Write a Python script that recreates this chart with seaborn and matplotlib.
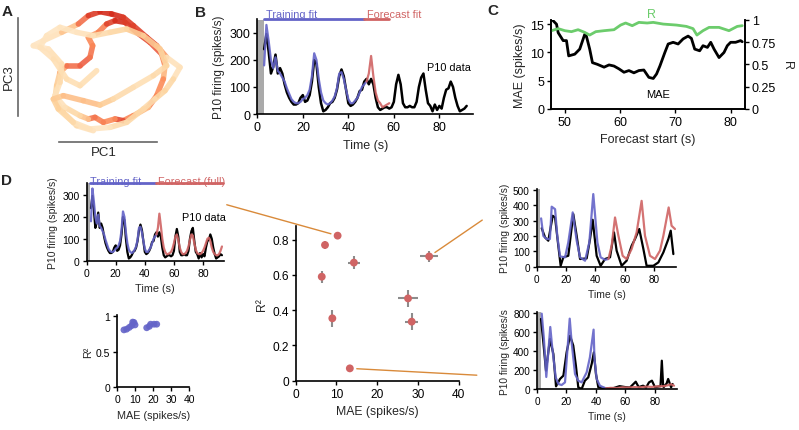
import numpy as np
import pandas as pd
import seaborn as sns
import matplotlib.pyplot as plt
from matplotlib.collections import LineCollection
from matplotlib.patches import ConnectionPatch
from matplotlib.colors import Normalize

sns.set_theme(style="ticks")
plt.rcParams['font.family'] = ['Liberation Sans', 'DejaVu Sans']
plt.rcParams['axes.linewidth'] = 1.2
plt.rcParams['xtick.major.size'] = 3
plt.rcParams['ytick.major.size'] = 3
plt.rcParams['xtick.major.width'] = 1
plt.rcParams['ytick.major.width'] = 1
plt.rcParams['xtick.major.pad'] = 2
plt.rcParams['ytick.major.pad'] = 2

BLUE = '#6464c8'
RED = '#d06464'
GREEN = '#6ccc6c'
ORANGE = '#d98a3a'
GRAY = '#aaaaaa'

# ---- panel A: trajectory in PC1/PC3 space, colour = firing
pc1 = [280, 230, 190, 165, 170, 180, 200, 240, 270, 278, 265, 295, 320, 345, 375, 410, 450, 485, 495, 490,
       470, 445, 400, 370, 345, 310, 285, 265, 240, 195, 165, 180, 185, 145, 100, 130, 185, 235, 265, 300,
       335, 370, 400, 440, 470, 500, 540, 520, 495, 465, 430, 380, 330, 270, 220, 175, 160, 190, 250, 300,
       340, 400, 460, 500, 480, 430, 380, 330, 280, 230, 180, 140, 120, 160, 200, 240, 290]
pc3 = [35, 50, 90, 130, 170, 210, 230, 230, 255, 290, 315, 330, 355, 365, 360, 330, 300, 265, 230, 190,
       140, 105, 80, 65, 70, 60, 75, 70, 80, 105, 140, 180, 235, 280, 290, 305, 330, 355, 380, 392,
       385, 375, 350, 315, 290, 255, 225, 190, 155, 130, 100, 60, 45, 40, 60, 100, 130, 140, 125, 112,
       130, 165, 200, 230, 280, 320, 340, 330, 320, 330, 345, 320, 285, 250, 190, 170, 215]
rate = [0.05, 0.1, 0.15, 0.2, 0.15, 0.3, 0.55, 0.75, 0.65, 0.6, 0.5, 0.45, 0.7, 0.9, 0.85, 0.8, 0.75, 0.7, 0.4, 0.35,
        0.7, 0.4, 0.3, 0.8, 0.75, 0.3, 0.85, 0.4, 0.2, 0.1, 0.05, 0.1, 0.15, 0.05, 0.03, 0.05, 0.1, 0.5, 0.8, 0.85,
        0.9, 0.85, 0.8, 0.8, 0.85, 0.1, 0.05, 0.1, 0.2, 0.15, 0.1, 0.2, 0.05, 0.05, 0.1, 0.2, 0.2, 0.3, 0.35, 0.3,
        0.15, 0.1, 0.1, 0.15, 0.2, 0.3, 0.2, 0.15, 0.1, 0.05, 0.05, 0.05, 0.05, 0.1, 0.1, 0.1, 0.1]

# ---- panel B / D: P10 data and fits (1 s bins)
data_t = list(range(3, 94))
data_v = [240, 296, 230, 150, 175, 220, 150, 170, 150, 110,
          80, 60, 45, 35, 35, 40, 60, 70, 45, 50,
          70, 120, 200, 185, 100, 40, 10, 15, 25, 40,
          45, 60, 90, 140, 165, 140, 90, 40, 30, 35,
          45, 60, 85, 90, 120, 130, 110, 130, 110, 60,
          25, 15, 20, 25, 25, 20, 25, 45, 110, 145,
          110, 40, 25, 25, 30, 25, 25, 45, 100, 135,
          150, 90, 40, 30, 10, 35, 15, 30, 20, 60,
          90, 95, 120, 100, 60, 30, 10, 15, 20, 30, 25]
train_t = list(range(3, 49))
train_v = [180, 330, 270, 200, 170, 210, 160, 150, 135, 120,
           95, 75, 55, 45, 40, 40, 45, 55, 60, 70,
           90, 140, 225, 200, 130, 80, 50, 40, 35, 40,
           50, 65, 95, 150, 155, 130, 90, 55, 40, 40,
           50, 60, 80, 100, 110, 120]
fc_t = list(range(48, 59))
fc_v = [120, 150, 215, 140, 80, 50, 40, 25, 30, 35, 40]
full_t = list(range(48, 94))
full_v = [120, 150, 215, 160, 100, 60, 40, 30, 30, 35, 40, 55, 80, 110, 120, 95, 60, 40, 30, 30,
          35, 45, 65, 95, 120, 115, 80, 50, 35, 30, 30, 35, 45, 60, 80, 100, 105, 90, 60, 40,
          30, 25, 25, 30, 45, 65]
b_train_span = [3, 47]
b_fc_span = [47, 58]
d_train_span = [2, 48]
d_fc_span = [48, 94]

# ---- panel C: sliding forecast start
c_t = [47.6, 48.5, 48.8, 49.7, 50.3, 50.7, 51.8, 52.7, 53.6, 53.9, 54.5, 55.0, 55.9, 57.1, 58.0, 58.9, 59.8,
       60.7, 61.6, 62.5, 63.4, 64.3, 65.2, 66.0, 66.6, 67.2, 68.1, 68.7, 69.6, 70.5, 71.4, 72.3, 72.9, 73.5,
       74.4, 75.0, 75.8, 76.4, 77.0, 77.9, 78.8, 79.4, 80.0, 80.9, 81.8, 82.1]
c_mae = [15.9, 15.0, 13.5, 12.1, 12.1, 9.4, 9.7, 10.6, 13.2, 12.9, 10.6, 8.2, 7.9, 7.4, 7.8, 7.6, 7.1,
         6.5, 6.8, 6.4, 6.8, 6.9, 5.6, 5.4, 6.2, 7.6, 10.0, 11.5, 11.8, 11.5, 12.4, 12.9, 12.5, 10.6,
         10.3, 11.2, 10.9, 11.8, 10.6, 9.1, 10.0, 11.2, 11.8, 11.8, 12.1, 11.9]
c_rt = [47.6, 48.8, 50.0, 51.2, 52.4, 53.6, 54.5, 55.6, 57.1, 58.9, 60.1, 61.0, 62.2, 63.4, 64.9, 66.0,
        67.8, 70.2, 72.0, 73.2, 73.9, 75.0, 76.1, 77.9, 79.7, 81.2, 82.1]
c_r = [0.877, 0.90, 0.877, 0.866, 0.888, 0.858, 0.828, 0.866, 0.877, 0.888, 0.94, 0.963, 0.933, 0.97, 0.963, 0.97,
       0.951, 0.94, 0.925, 0.90, 0.828, 0.877, 0.914, 0.914, 0.877, 0.925, 0.933]

# ---- panel D: fits across neurons
fit_mae = [3.7, 5.2, 6.7, 8.0, 8.6, 9.3, 9.9, 16.4, 17.9, 18.6, 20.5, 22.0]
fit_r2 = [0.81, 0.82, 0.845, 0.87, 0.92, 0.915, 0.88, 0.84, 0.86, 0.89, 0.89, 0.89]

fc_mae = [10.3, 7.2, 6.4, 14.3, 32.8, 9.0, 27.6, 28.5, 13.3]
fc_r2 = [0.823, 0.77, 0.59, 0.67, 0.705, 0.354, 0.467, 0.335, 0.07]
fc_mae_err = [0.4, 0.4, 0.3, 1.4, 2.2, 0.3, 2.5, 1.6, 0.3]
fc_r2_err = [0.01, 0.02, 0.033, 0.036, 0.03, 0.047, 0.05, 0.05, 0.0]

rt_black_t = [3.4, 5.7, 7.9, 10.9, 12.5, 14.7, 16.3, 18.1, 21.5, 24.9, 27.2, 29.5, 34.0, 36.3, 38.1, 40.8, 43.5,
              46.5, 49.9, 52.6, 54.4, 57.8, 61.2, 64.6, 66.9, 69.8, 72.6, 74.8, 79.4, 82.8, 86.2, 89.6, 91.2, 93.0]
rt_black_v = [250, 190, 169, 331, 320, 136, 6, 61, 71, 342, 201, 50, 54, 180, 305, 71, 6,
              50, 61, 223, 104, 6, 39, 136, 180, 245, 115, 6, 6, 28, 93, 180, 234, 82]
rt_blue_t = [3.0, 4.5, 6.8, 9.0, 10.2, 12.5, 14.0, 15.9, 19.3, 21.5, 24.5, 27.2, 29.5, 32.9, 35.8, 38.5,
             41.3, 43.5, 46.5, 48.8]
rt_blue_v = [314, 200, 180, 180, 390, 374, 200, 67, 61, 158, 353, 169, 61, 39, 158, 472, 158, 61, 45, 50]
rt_red_t = [48.8, 51.0, 53.3, 55.6, 58.5, 61.2, 64.6, 68.0, 71.4, 73.7, 77.1, 80.5, 83.9, 86.2, 89.8, 91.8, 94.1]
rt_red_v = [50, 136, 320, 201, 71, 50, 115, 223, 428, 201, 71, 50, 104, 201, 385, 266, 245]

rb_black_t = [2.7, 4.3, 6.1, 8.8, 11.1, 12.9, 15.6, 17.9, 20.1, 22.4, 24.6, 26.4, 28.0, 30.3, 32.5, 34.8,
              37.1, 38.6, 40.0, 41.6, 47.2, 52, 56, 60, 63, 67, 69, 72, 74, 76, 78, 80, 82, 83.8, 84.7,
              85.6, 86, 88, 89, 91, 92]
rb_black_v = [740, 493, 194, 528, 370, 28, 106, 141, 387, 563, 458, 246, 18, 0, 88, 123,
              264, 387, 158, 18, 7, 10, 30, 20, 15, 77, 20, 35, 15, 70, 88, 20, 25, 30, 299,
              30, 20, 60, 106, 18, 53]
rb_blue_t = [3.2, 4.7, 6.3, 8.2, 9.0, 10.2, 12.7, 14.5, 16.7, 19.0, 21.2, 22.2, 23.5, 25.8, 28.0, 30.3,
             33.7, 35.9, 38.4, 39.0, 40.5, 42.7, 45.0, 46.8]
rb_blue_v = [796, 528, 127, 493, 655, 458, 123, 53, 42, 70, 528, 743, 493, 158, 88, 70,
             176, 334, 627, 317, 106, 35, 18, 7]
rb_red_t = [46.8, 50, 54, 58, 62, 66, 70, 74, 78, 82, 86, 89, 91, 93]
rb_red_v = [7, 12, 10, 18, 15, 20, 18, 25, 22, 28, 30, 40, 50, 35]


def box(l, t, r, b):
    return [l / 799, 1 - b / 431, (r - l) / 799, (b - t) / 431]


def trace(ax, t, v, color, lw=1.6, alpha=1.0):
    sns.lineplot(x=t, y=v, ax=ax, color=color, lw=lw, alpha=alpha, errorbar=None, sort=False)


def style(ax, fs):
    sns.despine(ax=ax)
    ax.tick_params(labelsize=fs, colors='black', direction='out')
    for s in ax.spines.values():
        s.set_color('black')


fig = plt.figure(figsize=(7.99, 4.31), dpi=100)

# ---------------- A
axA = fig.add_axes(box(18, 12, 190, 143))
pts = np.column_stack([pc1, pc3])
segs = np.stack([pts[:-1], pts[1:]], axis=1)
cval = (np.array(rate[:-1]) + np.array(rate[1:])) / 2
lc = LineCollection(segs, cmap='OrRd', norm=Normalize(-0.15, 1.2), linewidths=4,
                    capstyle='round', joinstyle='round', alpha=0.9)
lc.set_array(cval)
axA.add_collection(lc)
axA.set_xlim(54, 570)
axA.set_ylim(1, 394)
sns.despine(ax=axA)
axA.spines['left'].set_bounds(80, 372)
axA.spines['bottom'].set_bounds(178, 472)
for s in ['left', 'bottom']:
    axA.spines[s].set_color('#666666')
axA.set_xticks([])
axA.set_yticks([])
axA.set_xlabel('PC1', fontsize=9.5, labelpad=3)
axA.set_ylabel('PC3', fontsize=9.5, labelpad=2)

# ---------------- B
axB = fig.add_axes(box(257.3, 20.5, 473.5, 115))
axB.axvspan(0, 3, color=GRAY, lw=0)
trace(axB, data_t[:-1], data_v[:-1], 'black', lw=1.8)
trace(axB, train_t, train_v, BLUE, alpha=0.9)
trace(axB, fc_t, fc_v, RED, alpha=0.9)
axB.set_xlim(0, 95)
axB.set_ylim(0, 350)
axB.set_xticks([0, 20, 40, 60, 80])
axB.set_yticks([0, 100, 200, 300])
style(axB, 9)
axB.plot(b_train_span, [350, 350], color=BLUE, lw=2, clip_on=False)
axB.plot(b_fc_span, [350, 350], color=RED, lw=2, clip_on=False)
axB.text(3.8, 350, 'Training fit', color=BLUE, fontsize=7.8, va='bottom', zorder=0)
axB.text(48, 350, 'Forecast fit', color=RED, fontsize=7.8, va='bottom', zorder=0)
axB.text(84, 174, 'P10 data', color='black', fontsize=7.8, ha='center', va='center')
axB.set_xlabel('Time (s)', fontsize=9)
axB.set_ylabel('P10 firing (spikes/s)', fontsize=8.5, labelpad=3)

# ---------------- C
axC = fig.add_axes(box(551, 20.7, 745, 110))
axC2 = axC.twinx()
trace(axC, c_t, c_mae, 'black', lw=2)
trace(axC2, c_rt, c_r, GREEN, lw=2)
axC.set_xlim(47.5, 82.6)
axC.set_ylim(0, 15.8)
axC2.set_ylim(0, 1)
axC.set_xticks([50, 60, 70, 80])
axC.set_yticks([0, 5, 10, 15])
axC2.set_yticks([0, 0.25, 0.5, 0.75, 1])
axC2.set_yticklabels(['0', '0.25', '0.5', '0.75', '1'])
for a in (axC, axC2):
    a.spines['top'].set_visible(False)
    a.tick_params(labelsize=9, colors='black')
    for s in a.spines.values():
        s.set_color('black')
axC.text(65.7, 16.75, 'R', color=GREEN, fontsize=9, ha='center', va='center')
axC.text(66.9, 2.6, 'MAE', color='black', fontsize=8, ha='center', va='center')
axC.set_xlabel('Forecast start (s)', fontsize=9)
axC.set_ylabel('MAE (spikes/s)', fontsize=9, labelpad=3)
axC2.set_ylabel('R', fontsize=9, rotation=270, labelpad=12)

# ---------------- D top-left
axD1 = fig.add_axes(box(86.6, 184, 224, 261.7))
axD1.axvspan(0, 2.5, color=GRAY, lw=0)
trace(axD1, data_t, data_v, 'black', lw=1.6)
trace(axD1, train_t, train_v, BLUE, alpha=0.9)
trace(axD1, full_t, full_v, RED, alpha=0.9)
axD1.set_xlim(0, 94.4)
axD1.set_ylim(0, 355)
axD1.set_xticks([0, 20, 40, 60, 80])
axD1.set_yticks([0, 100, 200, 300])
style(axD1, 7.5)
axD1.plot(d_train_span, [355, 355], color=BLUE, lw=2, clip_on=False)
axD1.plot(d_fc_span, [355, 355], color=RED, lw=2, clip_on=False)
axD1.text(2.3, 366, 'Training fit', color=BLUE, fontsize=7.8, va='center', zorder=0)
axD1.text(49, 366, 'Forecast (full)', color=RED, fontsize=7.8, va='center', zorder=0)
axD1.text(80.7, 200, 'P10 data', color='black', fontsize=7.8, ha='center', va='center')
axD1.set_xlabel('Time (s)', fontsize=7.8)
axD1.set_ylabel('P10 firing (spikes/s)', fontsize=7.5, labelpad=3)

# ---------------- D small scatter (training fits)
axD2 = fig.add_axes(box(117.3, 316, 189, 388.3))
sns.scatterplot(x=fit_mae, y=fit_r2, ax=axD2, color=BLUE, s=24, edgecolor='none', alpha=0.9)
axD2.set_xlim(0, 40)
axD2.set_ylim(0, 1.02)
axD2.set_xticks([0, 10, 20, 30, 40])
axD2.set_yticks([0, 0.5, 1])
axD2.set_yticklabels(['0', '0.5', '1'])
style(axD2, 7.5)
axD2.set_xlabel('MAE (spikes/s)', fontsize=7.8)
axD2.set_ylabel('R²', fontsize=7.8, labelpad=2)

# ---------------- D middle scatter (forecasts)
axD3 = fig.add_axes(box(295.7, 226.6, 458.5, 381.7))
axD3.errorbar(fc_mae, fc_r2, xerr=fc_mae_err, yerr=fc_r2_err, fmt='none', ecolor='#8c8c8c',
              elinewidth=1.5, capsize=0)
sns.scatterplot(x=fc_mae, y=fc_r2, ax=axD3, color=RED, s=32, edgecolor='none', zorder=3)
axD3.set_xlim(0, 40)
axD3.set_ylim(0, 0.88)
axD3.set_xticks([0, 10, 20, 30, 40])
axD3.set_yticks([0, 0.2, 0.4, 0.6, 0.8])
axD3.set_yticklabels(['0', '0.2', '0.4', '0.6', '0.8'])
style(axD3, 8.6)
axD3.set_xlabel('MAE (spikes/s)', fontsize=8.8)
axD3.set_ylabel('R²', fontsize=8.8, labelpad=3)

# ---------------- D right top
axD4 = fig.add_axes(box(536.7, 190, 676.3, 267.7))
axD4.axvspan(0, 2.5, color=GRAY, lw=0)
trace(axD4, rt_black_t, rt_black_v, 'black', lw=1.6)
trace(axD4, rt_blue_t, rt_blue_v, BLUE, alpha=0.9)
trace(axD4, rt_red_t, rt_red_v, RED, alpha=0.9)
axD4.set_xlim(0, 95)
axD4.set_ylim(0, 505)
axD4.set_xticks([0, 20, 40, 60, 80])
axD4.set_yticks([0, 100, 200, 300, 400, 500])
style(axD4, 7.2)
axD4.set_xlabel('Time (s)', fontsize=7.5)
axD4.set_ylabel('P10 firing (spikes/s)', fontsize=7.3, labelpad=2)

# ---------------- D right bottom
axD5 = fig.add_axes(box(537, 313.3, 677, 390))
axD5.axvspan(0, 2.5, color=GRAY, lw=0)
trace(axD5, rb_black_t, rb_black_v, 'black', lw=1.6)
trace(axD5, rb_blue_t, rb_blue_v, BLUE, alpha=0.9)
trace(axD5, rb_red_t, rb_red_v, RED, alpha=0.9)
axD5.set_xlim(0, 95)
axD5.set_ylim(0, 810)
axD5.set_xticks([0, 20, 40, 60, 80])
axD5.set_yticks([0, 200, 400, 600, 800])
style(axD5, 7.2)
axD5.set_xlabel('Time (s)', fontsize=7.5)
axD5.set_ylabel('P10 firing (spikes/s', fontsize=7.3, labelpad=2)

# ---------------- connectors
links = [(0, axD1, (1.02, 0.72)), (4, axD4, (-0.39, 0.60)), (8, axD5, (-0.43, 0.18))]
for i, ax_to, xy in links:
    cp = ConnectionPatch(xyA=(fc_mae[i], fc_r2[i]), coordsA=axD3.transData,
                         xyB=xy, coordsB=ax_to.transAxes, color=ORANGE, lw=1,
                         shrinkA=5, shrinkB=0)
    fig.add_artist(cp)

# panel letters
for lab, x, y in [('A', 2, 5), ('B', 195, 6), ('C', 487, 4), ('D', 1, 174)]:
    fig.text(x / 799, 1 - y / 431, lab, fontsize=11, weight='bold', ha='left', va='top')

fig.savefig('out.png', dpi=100)
